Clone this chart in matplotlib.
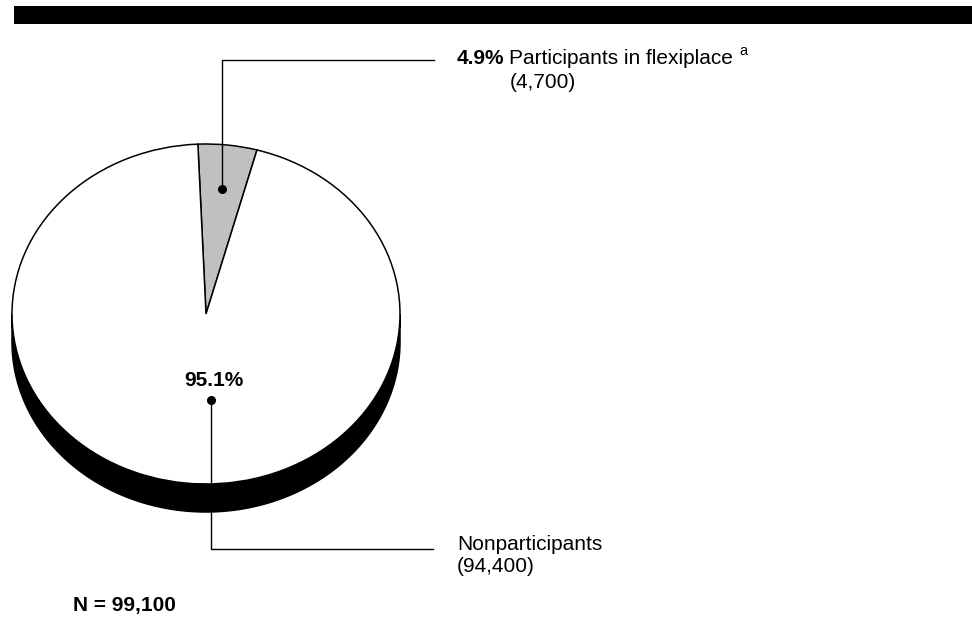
import numpy as np
import matplotlib
matplotlib.use("Agg")
import matplotlib.pyplot as plt
from matplotlib.patches import Wedge, Rectangle, Polygon
from matplotlib.transforms import Affine2D

# data
labels = ["Participants in flexiplace", "Nonparticipants"]
shares = [4.9, 95.1]
counts = [4700, 94400]
total_n = 99100
colors = ["#c0c0c0", "white"]

plt.rcParams["font.family"] = ["Liberation Sans", "DejaVu Sans"]

fig = plt.figure(figsize=(9.72, 6.19), dpi=100)
ax = fig.add_axes([0, 0, 1, 1])
ax.set_xlim(0, 972)
ax.set_ylim(619, 0)
ax.axis("off")

# top black band
ax.add_patch(Rectangle((14, 6), 958, 18, color="black", lw=0))

# pie geometry (pixel space)
cx, cy, rx, ry, depth = 206, 314, 194, 170, 28
ell = Affine2D().scale(rx, -ry).translate(cx, cy) + ax.transData

# 3d side: lower half of the rim
t = np.linspace(np.pi, 2 * np.pi, 200)
top = np.column_stack([cx + rx * np.cos(t), cy - ry * np.sin(t)])
bot = top[::-1] + [0, depth]
ax.add_patch(Polygon(np.vstack([top, bot]), closed=True, fc="black",
                     ec="black", lw=1.1))

# wedges, clockwise from start angle
start = 92.4
angles = []
a = start
for s, c in zip(shares, colors):
    span = s / 100 * 360
    w = Wedge((0, 0), 1, a - span, a, fc=c, ec="black", lw=1.1,
              transform=ell)
    ax.add_patch(w)
    angles.append(a - span / 2)
    a -= span

# leader for small slice
mid = np.deg2rad(angles[0])
dx, dy = cx + rx * 0.74 * np.cos(mid), cy - ry * 0.74 * np.sin(mid)
ax.plot([dx], [dy], "o", color="black", ms=5.5)
ax.plot([dx, dx, 434], [dy, 60, 60], color="black", lw=1.0)

fs = 15
t1 = ax.text(457, 58, f"{shares[0]}%", fontsize=fs, fontweight="bold",
             va="center", ha="left")
t2 = ax.annotate(labels[0], xy=(1, 0), xycoords=t1, xytext=(4, 0),
                 textcoords="offset pixels", fontsize=fs,
                 va="bottom", ha="left")
ax.annotate("a", xy=(1, 0.5), xycoords=t2, xytext=(7, 0),
            textcoords="offset pixels", fontsize=10.5, va="bottom", ha="left")
ax.text(510, 82, f"({counts[0]:,})", fontsize=fs, va="center", ha="left")

# leader for large slice
bx, by = 211, 400
ax.plot([bx], [by], "o", color="black", ms=5.5)
ax.plot([bx, bx, 433], [by, 549, 549], color="black", lw=1.0)
ax.text(214, 380, f"{shares[1]}%", fontsize=fs, fontweight="bold",
        va="center", ha="center")
ax.text(457, 545, labels[1], fontsize=fs, va="center", ha="left")
ax.text(457, 567, f"({counts[1]:,})", fontsize=fs, va="center", ha="left")

ax.text(73, 605, f"N = {total_n:,}", fontsize=fs, fontweight="bold",
        va="center", ha="left")

fig.savefig("out.png", dpi=100)
